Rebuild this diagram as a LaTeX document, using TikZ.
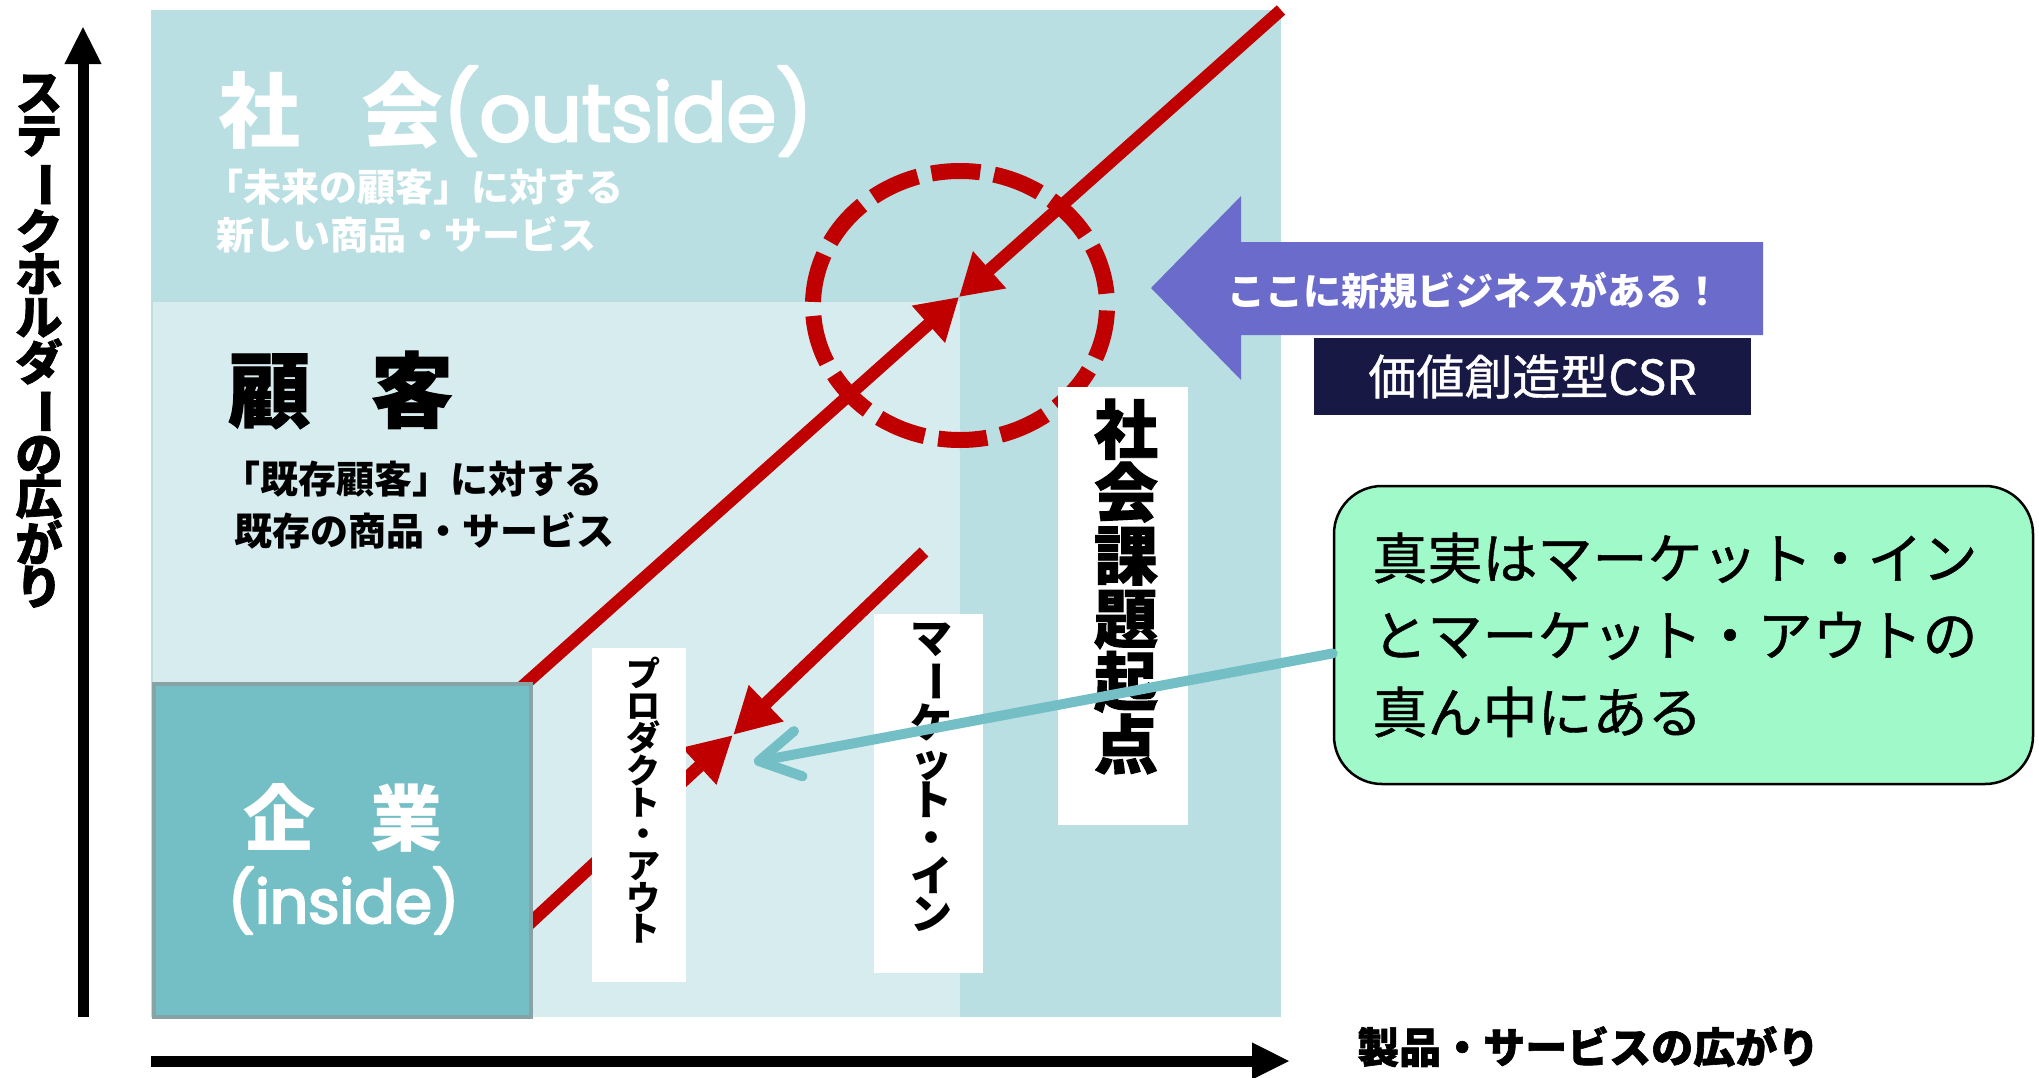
\documentclass[tikz,border=0pt]{standalone}
\usepackage{fontspec}
\usepackage{graphicx}
\setmainfont{Noto Sans CJK JP}
\newfontfamily\jpheavy{Noto Sans CJK JP}[FakeBold=1.5]
\newfontfamily\jpmed{Noto Sans CJK JP}[FakeBold=0.8]
\newfontfamily\latfont{Poppins}[FakeBold=3.5]
\usetikzlibrary{arrows.meta}
\definecolor{outerbg}{RGB}{185,223,227}
\definecolor{innerbg}{RGB}{214,236,239}
\definecolor{kfill}{RGB}{115,191,197}
\definecolor{kborder}{RGB}{135,163,166}
\definecolor{redline}{RGB}{192,0,0}
\definecolor{tealline}{RGB}{115,191,197}
\definecolor{purp}{RGB}{107,107,204}
\definecolor{navyc}{RGB}{24,24,69}
\definecolor{mint}{RGB}{160,249,200}
\newcommand\myfs[2]{\fontsize{#1bp}{#2bp}\selectfont}
\newcommand\tatebar{\rotatebox[origin=c]{-90}{ー}}
\begin{document}
\begin{tikzpicture}[x=1bp,y=-1bp,
  redarrow/.style={draw=redline, line width=12.5bp},
  tealarrow/.style={draw=tealline, line width=10bp, line cap=round, -{Straight Barb[length=40bp,width=46bp,round]}},
  axisarrow/.style={draw=black, line width=11bp, -{Triangle[length=38bp,width=34bp]}},
  whitebox/.style={fill=white, inner sep=0},
  txt/.style={inner sep=0},
  vtxt/.style={inner sep=0, align=center}
]
\useasboundingbox (0,0) rectangle (2039,1077);
\fill[white] (0,0) rectangle (2039,1077);

% backgrounds
\fill[outerbg] (151,10) rectangle (1281,1017);
\fill[innerbg] (153,302) rectangle (960,1017);

% texts in background
\node[txt, anchor=base west, text=white, font={\bfseries\myfs{82}{90}}] (shakai) at (218,141)
  {社\hspace{61bp}会{\latfont\mdseries\myfs{80}{90}(outside)}};
\node[txt, anchor=base west, text=white, font={\bfseries\myfs{38}{44}}] (futuretxt) at (205,201) {「未来の顧客」に対する};
\node[txt, anchor=base west, text=white, font={\bfseries\myfs{38}{44}}] (newtxt) at (216,249) {新しい商品・サービス};
\node[txt, anchor=base west, font={\jpheavy\bfseries\myfs{82}{90}}] (kokyaku) at (228,421) {顧\hspace{61bp}客};
\node[txt, anchor=base west, font={\bfseries\myfs{38}{44}}] (existtxt1) at (222,493) {「既存顧客」に対する};
\node[txt, anchor=base west, font={\bfseries\myfs{38}{44}}] (existtxt2) at (234,545) {既存の商品・サービス};

% dashed ellipse
\draw[redline, line width=16bp, dash pattern=on 49bp off 14bp, dash phase=58bp]
  (960,305.5) ellipse [x radius=147, y radius=134.5];

% red arrows
\coordinate (cA) at (959,297);
\coordinate (sA) at (505,702);
\coordinate (sB) at (1281,10);
\coordinate (cB) at (733,735);
\coordinate (sC) at (528,925);
\coordinate (sD) at (924,552);
\draw[redarrow, -{Triangle[length=41bp,width=47bp]}] (sA) -- (cA);
\draw[redarrow, -{Triangle[length=41bp,width=47bp]}] (sB) -- (cA);
\draw[redarrow, -{Triangle[length=46bp,width=47bp]}] (sC) -- (cB);
\draw[redarrow, -{Triangle[length=46bp,width=47bp]}] (sD) -- (cB);

% company box
\node[draw=kborder, line width=4bp, fill=kfill, minimum width=377bp, minimum height=333bp, inner sep=0] (kigyo) at (342.5,850.5) {};
\node[txt, anchor=base west, text=white, font={\bfseries\myfs{72}{80}}] (kigyotxt) at (243.5,845) {企\hspace{54.5bp}業};
\node[txt, anchor=base, text=white, font={\latfont\mdseries\myfs{60}{70}}] (insidetxt) at (343.5,923) {(inside)};

% white vertical boxes
\node[whitebox, minimum width=94bp, minimum height=334bp] (prodbox) at (639,815) {};
\node[vtxt, font={\bfseries\myfs{34}{31.7}}] (prodtxt) at (643,800.5) {プ\\ロ\\ダ\\ク\\ト\\・\\ア\\ウ\\ト};
\node[whitebox, minimum width=109bp, minimum height=359bp] (mktbox) at (928.5,793.5) {};
\node[vtxt, font={\bfseries\myfs{42}{38}}] (mkttxt) at (931,777.5) {マ\\\tatebar\\ケ\\ッ\\ト\\・\\イ\\ン};
\node[whitebox, minimum width=130bp, minimum height=438bp] (socbox) at (1123,606) {};
\node[vtxt, font={\jpheavy\bfseries\myfs{64}{63}}] (soctxt) at (1126,586.5) {社\\会\\課\\題\\起\\点};

% purple arrow
\fill[purp] (1151,288) -- (1241,196) -- (1241,242) -- (1763,242) -- (1763,335) -- (1241,335) -- (1241,380) -- cycle;
\node[txt, anchor=base, text=white, font={\bfseries\myfs{38}{44}}] (newbiz) at (1474,305) {ここに新規ビジネスがある！};
\node[fill=navyc, minimum width=437bp, minimum height=77bp, inner sep=0, text=white, font={\jpmed\myfs{48}{54}}] (csr) at (1532.5,376.5) {価値創造型CSR};

% green callout
\node[draw=black, line width=2.5bp, fill=mint, rounded corners=48bp, minimum width=699bp, minimum height=298bp,
  text width=622bp, align=left, inner xsep=38.5bp, inner ysep=0, font={\jpmed\myfs{55}{77}}] (truth) at (1683.5,635)
  {真実はマーケット・イン\\とマーケット・アウトの\\真ん中にある};
\coordinate (tipT) at (754,762);
\draw[tealarrow] (truth.183) -- (tipT);

% axes
\coordinate (yb) at (83,1017);
\coordinate (yt) at (83,26);
\coordinate (xl) at (151,1061);
\coordinate (xr) at (1290,1061);
\draw[axisarrow] (yb) -- (yt);
\draw[axisarrow] (xl) -- (xr);
\node[vtxt, font={\jpheavy\bfseries\myfs{47}{43}}] (ylabel) at (39,341)
  {ス\\テ\\\tatebar\\ク\\ホ\\ル\\ダ\\\tatebar\\の\\広\\が\\り};
\node[txt, anchor=base west, font={\jpheavy\bfseries\myfs{42}{48}}] (xlabel) at (1357,1063) {製品・サービスの広がり};
\end{tikzpicture}
\end{document}
